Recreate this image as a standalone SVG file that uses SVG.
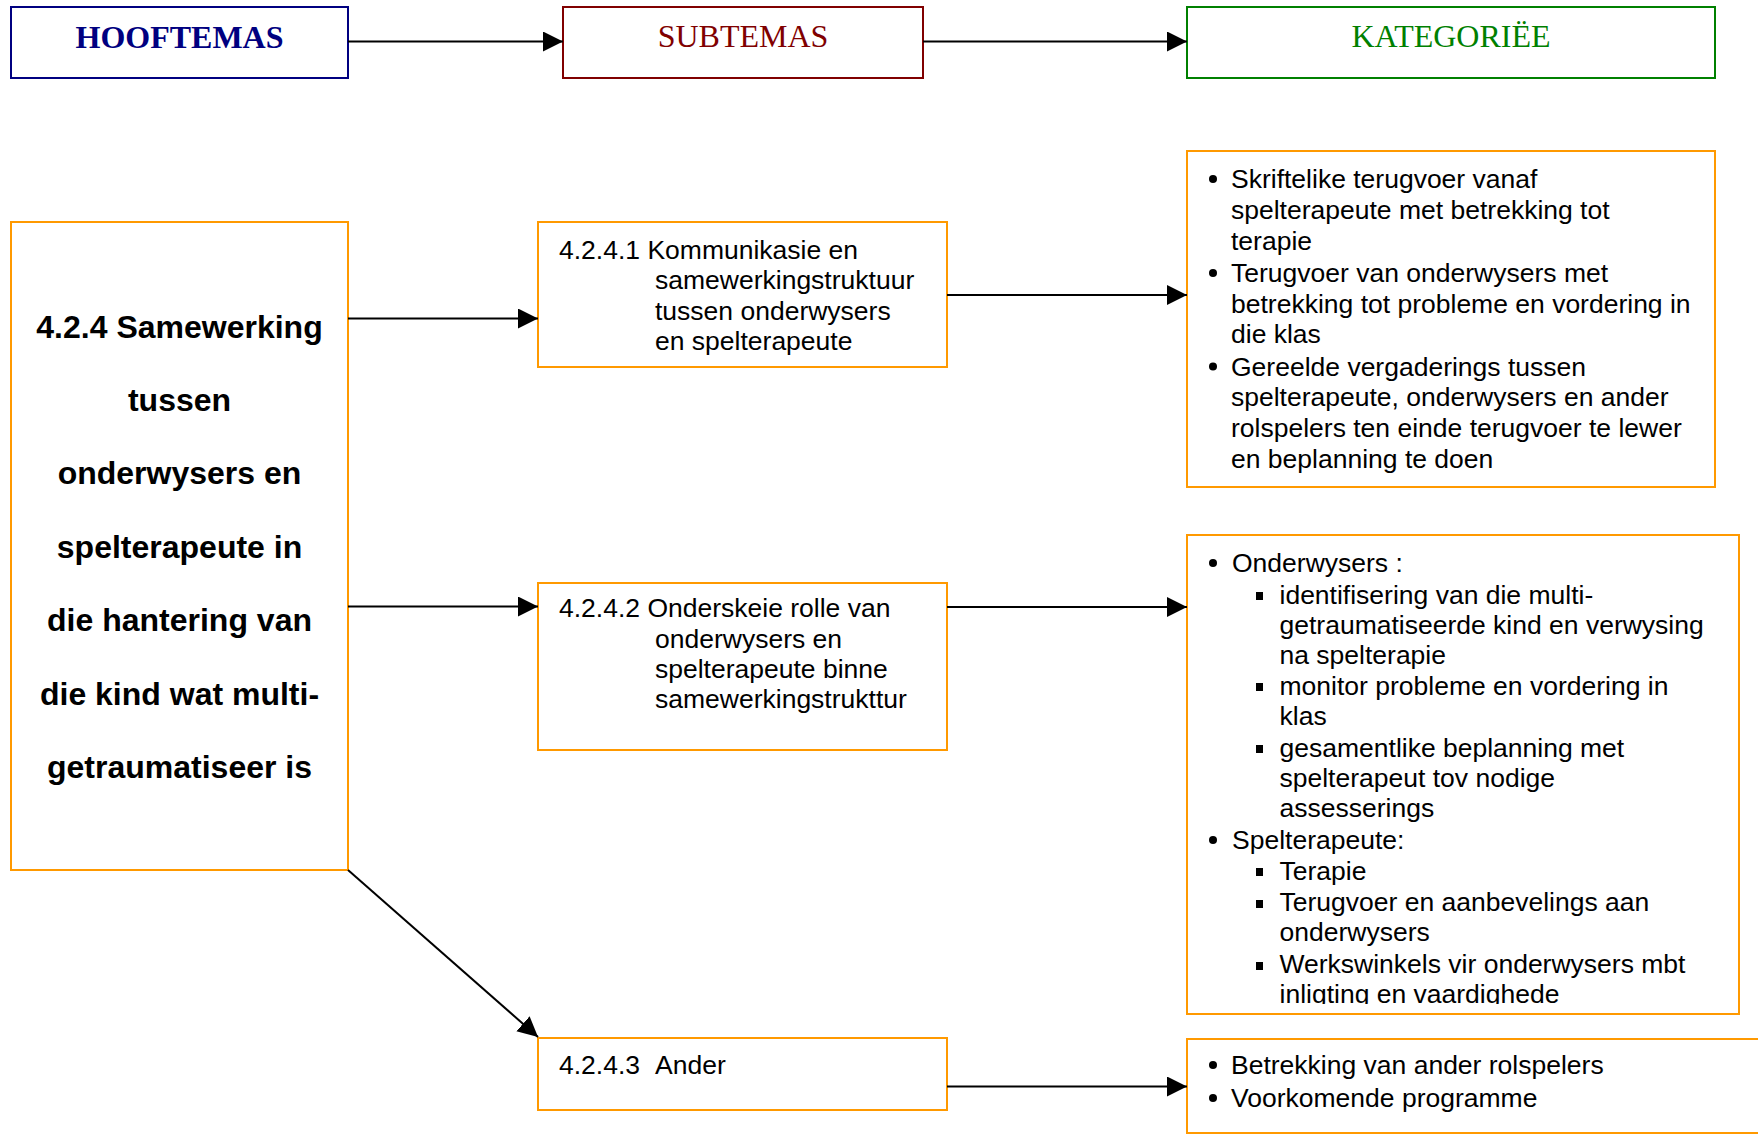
<svg xmlns="http://www.w3.org/2000/svg" width="1758" height="1135" viewBox="0 0 1758 1135">
<style>
.hdr{font-family:"Liberation Serif","Times New Roman",serif;font-size:32px;text-anchor:middle}
.box{fill:#fff;stroke:#FF9900;stroke-width:2}
.t{font-family:"Liberation Sans",Arial,sans-serif;font-size:26.5px;fill:#000}
.main{font-family:"Liberation Sans",Arial,sans-serif;font-size:32px;font-weight:bold;text-anchor:middle;fill:#000}
.conn{stroke:#000;stroke-width:2;fill:none;marker-end:url(#ah)}
.dot{fill:#000}
</style>
<defs>
<marker id="ah" markerUnits="userSpaceOnUse" markerWidth="22" markerHeight="22" refX="20" refY="10" orient="auto">
<path d="M0,0 L20,10 L0,20 Z" fill="#000"/>
</marker>
<clipPath id="c2"><rect x="1187" y="535" width="552" height="469"/></clipPath>
</defs>

<g id="hooftemas">
<rect x="11" y="7" width="337" height="71" fill="#fff" stroke="#000080" stroke-width="2"/>
<text class="hdr" x="179.5" y="48" font-weight="bold" fill="#000080">HOOFTEMAS</text>
</g>
<g id="subtemas">
<rect x="563" y="7" width="360" height="71" fill="#fff" stroke="#800000" stroke-width="2"/>
<text class="hdr" x="743" y="47" fill="#800000">SUBTEMAS</text>
</g>
<g id="kategoriee">
<rect x="1187" y="7" width="528" height="71" fill="#fff" stroke="#008000" stroke-width="2"/>
<text class="hdr" x="1451" y="47" fill="#008000">KATEGORIËE</text>
</g>

<g id="main">
<rect class="box" x="11" y="222" width="337" height="648"/>
<text class="main" x="179.5" y="337.7">4.2.4 Samewerking</text>
<text class="main" x="179.5" y="410.5">tussen</text>
<text class="main" x="179.5" y="484">onderwysers en</text>
<text class="main" x="179.5" y="558">spelterapeute in</text>
<text class="main" x="179.5" y="631">die hantering van</text>
<text class="main" x="179.5" y="704.5">die kind wat multi-</text>
<text class="main" x="179.5" y="777.5">getraumatiseer is</text>
</g>

<g id="sub1">
<rect class="box" x="538" y="222" width="409" height="145"/>
<text class="t" x="559" y="259">4.2.4.1 Kommunikasie en</text>
<text class="t" x="655" y="289">samewerkingstruktuur</text>
<text class="t" x="655" y="319.5">tussen onderwysers</text>
<text class="t" x="655" y="349.5">en spelterapeute</text>
</g>

<g id="sub2">
<rect class="box" x="538" y="583" width="409" height="167"/>
<text class="t" x="559" y="617">4.2.4.2 Onderskeie rolle van</text>
<text class="t" x="655" y="648">onderwysers en</text>
<text class="t" x="655" y="678">spelterapeute binne</text>
<text class="t" x="655" y="708">samewerkingstrukttur</text>
</g>

<g id="sub3">
<rect class="box" x="538" y="1038" width="409" height="72"/>
<text class="t" x="559" y="1074">4.2.4.3</text>
<text class="t" x="655" y="1074">Ander</text>
</g>

<g id="cat1">
<rect class="box" x="1187" y="151" width="528" height="336"/>
<circle class="dot" cx="1213" cy="179" r="4"/><text class="t" x="1231" y="188">Skriftelike terugvoer vanaf</text>
<text class="t" x="1231" y="219">spelterapeute met betrekking tot</text>
<text class="t" x="1231" y="249.5">terapie</text>
<circle class="dot" cx="1213" cy="273" r="4"/><text class="t" x="1231" y="282">Terugvoer van onderwysers met</text>
<text class="t" x="1231" y="312.5">betrekking tot probleme en vordering in</text>
<text class="t" x="1231" y="343">die klas</text>
<circle class="dot" cx="1213" cy="366.5" r="4"/><text class="t" x="1231" y="375.5">Gereelde vergaderings tussen</text>
<text class="t" x="1231" y="406">spelterapeute, onderwysers en ander</text>
<text class="t" x="1231" y="437">rolspelers ten einde terugvoer te lewer</text>
<text class="t" x="1231" y="467.5">en beplanning te doen</text>
</g>

<g id="cat2">
<rect class="box" x="1187" y="535" width="552" height="479"/>
<g clip-path="url(#c2)">
<circle class="dot" cx="1213" cy="563" r="4"/><text class="t" x="1232" y="572">Onderwysers :</text>
<rect x="1256" y="592" width="7" height="8" fill="#000"/><text class="t" x="1279.5" y="603.5">identifisering van die multi-</text>
<text class="t" x="1279.5" y="633.5">getraumatiseerde kind en verwysing</text>
<text class="t" x="1279.5" y="663.5">na spelterapie</text>
<rect x="1256" y="683" width="7" height="8" fill="#000"/><text class="t" x="1279.5" y="694.5">monitor probleme en vordering in</text>
<text class="t" x="1279.5" y="724.5">klas</text>
<rect x="1256" y="745" width="7" height="8" fill="#000"/><text class="t" x="1279.5" y="756.5">gesamentlike beplanning met</text>
<text class="t" x="1279.5" y="786.5">spelterapeut tov nodige</text>
<text class="t" x="1279.5" y="816.5">assesserings</text>
<circle class="dot" cx="1213" cy="840" r="4"/><text class="t" x="1232" y="849">Spelterapeute:</text>
<rect x="1256" y="868" width="7" height="8" fill="#000"/><text class="t" x="1279.5" y="879.5">Terapie</text>
<rect x="1256" y="900" width="7" height="8" fill="#000"/><text class="t" x="1279.5" y="911">Terugvoer en aanbevelings aan</text>
<text class="t" x="1279.5" y="941">onderwysers</text>
<rect x="1256" y="962" width="7" height="8" fill="#000"/><text class="t" x="1279.5" y="972.5">Werkswinkels vir onderwysers mbt</text>
<text class="t" x="1279.5" y="1002.5">inligting en vaardighede</text>
</g>
</g>

<g id="cat3">
<rect class="box" x="1187" y="1039" width="590" height="94"/>
<circle class="dot" cx="1213" cy="1065" r="4"/><text class="t" x="1231" y="1074">Betrekking van ander rolspelers</text>
<circle class="dot" cx="1213" cy="1098" r="4"/><text class="t" x="1231" y="1107">Voorkomende programme</text>
</g>

<g id="connectors">
<line class="conn" x1="348" y1="41.5" x2="563" y2="41.5"/>
<line class="conn" x1="923" y1="41.5" x2="1187" y2="41.5"/>
<line class="conn" x1="348" y1="318.5" x2="538" y2="318.5"/>
<line class="conn" x1="348" y1="606.5" x2="538" y2="606.5"/>
<line class="conn" x1="348" y1="870" x2="538" y2="1037"/>
<line class="conn" x1="947" y1="295" x2="1187" y2="295"/>
<line class="conn" x1="947" y1="607" x2="1187" y2="607"/>
<line class="conn" x1="947" y1="1086.5" x2="1187" y2="1086.5"/>
</g>
</svg>
